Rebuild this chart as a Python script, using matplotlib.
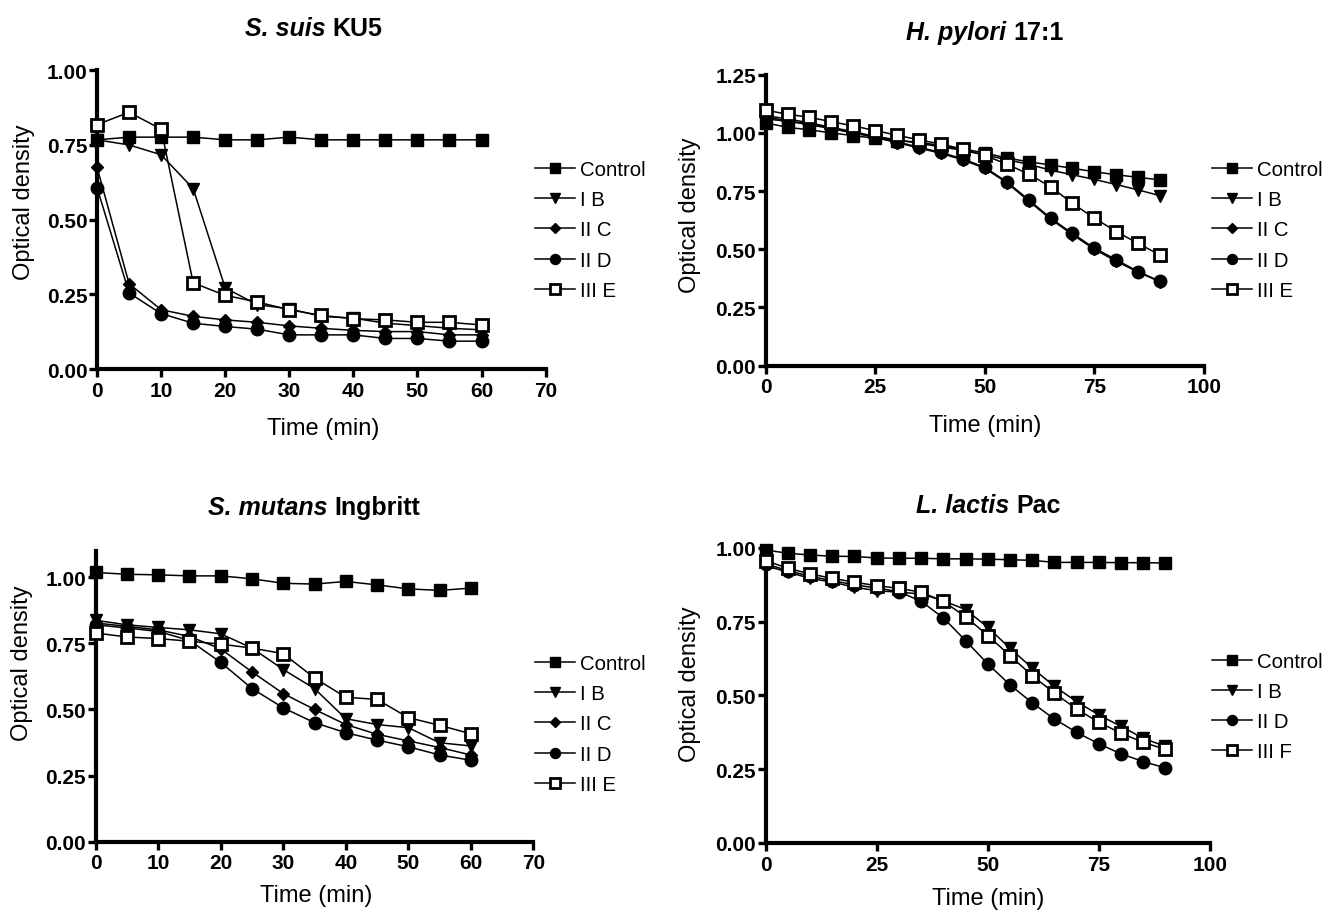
import matplotlib
matplotlib.use("Agg")
import matplotlib.pyplot as plt
from matplotlib.ticker import FormatStrFormatter

plt.rcParams['font.family'] = ['Liberation Sans', 'DejaVu Sans']

# ---------------- data ----------------
t60 = [0, 5, 10, 15, 20, 25, 30, 35, 40, 45, 50, 55, 60]
t90 = [0, 5, 10, 15, 20, 25, 30, 35, 40, 45, 50, 55, 60, 65, 70, 75, 80, 85, 90]

# S. suis KU5
suis_control = [0.767, 0.776, 0.776, 0.776, 0.767, 0.767, 0.776, 0.767, 0.767, 0.767, 0.767, 0.767, 0.767]
suis_IB = [0.767, 0.750, 0.717, 0.604, 0.272, 0.216, 0.202, 0.177, 0.171, 0.154, 0.146, 0.137, 0.132]
suis_IIC = [0.675, 0.286, 0.199, 0.177, 0.165, 0.157, 0.145, 0.137, 0.130, 0.126, 0.126, 0.115, 0.115]
suis_IID = [0.607, 0.255, 0.186, 0.154, 0.143, 0.134, 0.115, 0.115, 0.115, 0.103, 0.103, 0.094, 0.094]
suis_IIIE = [0.818, 0.859, 0.803, 0.289, 0.247, 0.225, 0.199, 0.180, 0.169, 0.165, 0.157, 0.157, 0.148]

# H. pylori 17:1
pyl_control = [1.043, 1.024, 1.013, 1.000, 0.988, 0.977, 0.967, 0.960, 0.945, 0.931, 0.914, 0.892,
               0.876, 0.862, 0.848, 0.833, 0.820, 0.809, 0.798]
pyl_IB = [1.070, 1.050, 1.040, 1.020, 1.000, 0.985, 0.970, 0.955, 0.940, 0.925, 0.905, 0.885,
          0.865, 0.840, 0.820, 0.800, 0.778, 0.755, 0.730]
pyl_IIC = [1.060, 1.050, 1.035, 1.018, 1.000, 0.980, 0.958, 0.935, 0.912, 0.884, 0.848, 0.786,
           0.708, 0.630, 0.563, 0.500, 0.448, 0.402, 0.360]
pyl_IID = [1.074, 1.060, 1.043, 1.024, 1.005, 0.985, 0.962, 0.938, 0.916, 0.888, 0.852, 0.790,
           0.713, 0.634, 0.568, 0.505, 0.455, 0.404, 0.362]
pyl_IIIE = [1.098, 1.080, 1.067, 1.048, 1.030, 1.010, 0.990, 0.970, 0.952, 0.930, 0.903, 0.866,
            0.823, 0.769, 0.697, 0.634, 0.576, 0.525, 0.475]

# S. mutans Ingbritt
mut_control = [1.018, 1.011, 1.009, 1.005, 1.005, 0.994, 0.977, 0.974, 0.984, 0.971, 0.956, 0.950, 0.959]
mut_IB = [0.837, 0.820, 0.810, 0.801, 0.786, 0.732, 0.651, 0.579, 0.465, 0.443, 0.431, 0.374, 0.362]
mut_IIC = [0.827, 0.814, 0.801, 0.776, 0.729, 0.642, 0.560, 0.500, 0.443, 0.406, 0.381, 0.356, 0.328]
mut_IID = [0.820, 0.808, 0.795, 0.761, 0.678, 0.579, 0.506, 0.450, 0.412, 0.384, 0.359, 0.328, 0.308]
mut_IIIE = [0.789, 0.774, 0.768, 0.758, 0.747, 0.732, 0.711, 0.619, 0.546, 0.538, 0.469, 0.440, 0.408]

# L. lactis Pac
lac_control = [0.993, 0.982, 0.976, 0.972, 0.971, 0.966, 0.965, 0.965, 0.963, 0.963, 0.962, 0.960,
               0.958, 0.951, 0.951, 0.951, 0.950, 0.950, 0.949]
lac_IB = [0.940, 0.918, 0.897, 0.884, 0.867, 0.855, 0.850, 0.844, 0.821, 0.791, 0.731, 0.660,
          0.593, 0.531, 0.479, 0.434, 0.395, 0.355, 0.327]
lac_IID = [0.946, 0.923, 0.904, 0.889, 0.875, 0.864, 0.852, 0.819, 0.763, 0.686, 0.607, 0.536,
           0.475, 0.420, 0.375, 0.336, 0.302, 0.276, 0.254]
lac_IIIF = [0.957, 0.931, 0.912, 0.897, 0.884, 0.872, 0.863, 0.850, 0.819, 0.767, 0.703, 0.635,
            0.567, 0.508, 0.454, 0.409, 0.372, 0.341, 0.317]

styles = {
    'Control': dict(marker='s', mfc='black'),
    'I B': dict(marker='v', mfc='black'),
    'II C': dict(marker='D', mfc='black'),
    'II D': dict(marker='o', mfc='black'),
    'III E': dict(marker='s', mfc='white'),
    'III F': dict(marker='s', mfc='white'),
}
msizes = {'s': 9, 'v': 9, 'D': 6.5, 'o': 9}

W, H = 1335, 912

panels = [
    dict(species="S. suis", strain="KU5", t=t60,
         series=[('Control', suis_control), ('I B', suis_IB), ('II C', suis_IIC),
                 ('II D', suis_IID), ('III E', suis_IIIE)],
         pos=[0.0727, 0.594, 0.336, 0.328], xlim=70, xticks=range(0, 71, 10),
         ylim=1.0, yticks=[0, 0.25, 0.5, 0.75, 1.0],
         title_px=(314, 36), xlab_px=(323, 435), ylab_px=(24, 202), leg=(535, 231)),
    dict(species="H. pylori", strain="17:1", t=t90,
         series=[('Control', pyl_control), ('I B', pyl_IB), ('II C', pyl_IIC),
                 ('II D', pyl_IID), ('III E', pyl_IIIE)],
         pos=[0.5735, 0.598, 0.3283, 0.319], xlim=100, xticks=range(0, 101, 25),
         ylim=1.25, yticks=[0, 0.25, 0.5, 0.75, 1.0, 1.25],
         title_px=(985, 40), xlab_px=(985, 432), ylab_px=(690, 215), leg=(1211.7, 231)),
    dict(species="S. mutans", strain="Ingbritt", t=t60,
         series=[('Control', mut_control), ('I B', mut_IB), ('II C', mut_IIC),
                 ('II D', mut_IID), ('III E', mut_IIIE)],
         pos=[0.0717, 0.076, 0.3278, 0.319], xlim=70, xticks=range(0, 71, 10),
         ylim=1.1, yticks=[0, 0.25, 0.5, 0.75, 1.0],
         title_px=(314, 515), xlab_px=(316, 902), ylab_px=(22, 663), leg=(535, 725)),
    dict(species="L. lactis", strain="Pac", t=t90,
         series=[('Control', lac_control), ('I B', lac_IB), ('II D', lac_IID),
                 ('III F', lac_IIIF)],
         pos=[0.5735, 0.0746, 0.3328, 0.3235], xlim=100, xticks=range(0, 101, 25),
         ylim=1.0, yticks=[0, 0.25, 0.5, 0.75, 1.0],
         title_px=(988, 513), xlab_px=(988, 905), ylab_px=(690, 684), leg=(1211.7, 707.5)),
]

fig = plt.figure(figsize=(W / 100, H / 100), dpi=100)
renderer = fig.canvas.get_renderer()

TITLE_FS = 18
LABEL_FS = 17
TICK_FS = 15
LEG_FS = 14.7

for p in panels:
    ax = fig.add_axes(p['pos'])
    handles = []
    for name, vals in p['series']:
        st = styles[name]
        ms = msizes[st['marker']]
        h, = ax.plot(p['t'], vals, color='black', lw=1.1, marker=st['marker'],
                     markersize=ms, markerfacecolor=st['mfc'], markeredgecolor='black',
                     markeredgewidth=2.0 if st['mfc'] == 'white' else 1.0,
                     label=name, clip_on=False, zorder=3)
        handles.append(h)
    ax.set_xlim(0, p['xlim'])
    ax.set_ylim(0, p['ylim'])
    ax.set_xticks(list(p['xticks']))
    ax.set_yticks(p['yticks'])
    ax.yaxis.set_major_formatter(FormatStrFormatter('%.2f'))
    for s in ['top', 'right']:
        ax.spines[s].set_visible(False)
    for s in ['left', 'bottom']:
        ax.spines[s].set_linewidth(3.0)
    ax.tick_params(axis='both', which='major', direction='out', length=5.5, width=2.4,
                   labelsize=TICK_FS)
    ax.tick_params(axis='y', pad=1.5)
    ax.tick_params(axis='x', pad=3)
    for lab in ax.get_xticklabels() + ax.get_yticklabels():
        lab.set_fontweight('bold')

    # axis labels
    fig.text(p['xlab_px'][0] / W, 1 - p['xlab_px'][1] / H, 'Time (min)', fontsize=LABEL_FS,
             ha='center', va='baseline')
    fig.text(p['ylab_px'][0] / W, 1 - p['ylab_px'][1] / H, 'Optical density',
             fontsize=LABEL_FS, rotation=90, ha='center', va='center')

    # title: bold italic species + bold strain
    t1 = fig.text(0, 0, p['species'], fontsize=TITLE_FS, fontweight='bold', fontstyle='italic',
                  ha='left', va='baseline')
    t2 = fig.text(0, 0, p['strain'], fontsize=TITLE_FS, fontweight='bold',
                  ha='left', va='baseline')
    w1 = t1.get_window_extent(renderer).width
    w2 = t2.get_window_extent(renderer).width
    gap = 0.278 * TITLE_FS * 100 / 72
    total = w1 + gap + w2
    x0 = p['title_px'][0] - total / 2
    yb = 1 - p['title_px'][1] / H
    t1.set_position((x0 / W, yb))
    t2.set_position(((x0 + w1 + gap) / W, yb))

    fig.legend(handles=handles, loc='center left',
               bbox_to_anchor=(p['leg'][0] / W, 1 - p['leg'][1] / H),
               frameon=False, fontsize=LEG_FS, markerscale=0.8, handlelength=1.95,
               handletextpad=0.25, labelspacing=0.55, borderpad=0, borderaxespad=0)

fig.savefig('out.png', dpi=100)
